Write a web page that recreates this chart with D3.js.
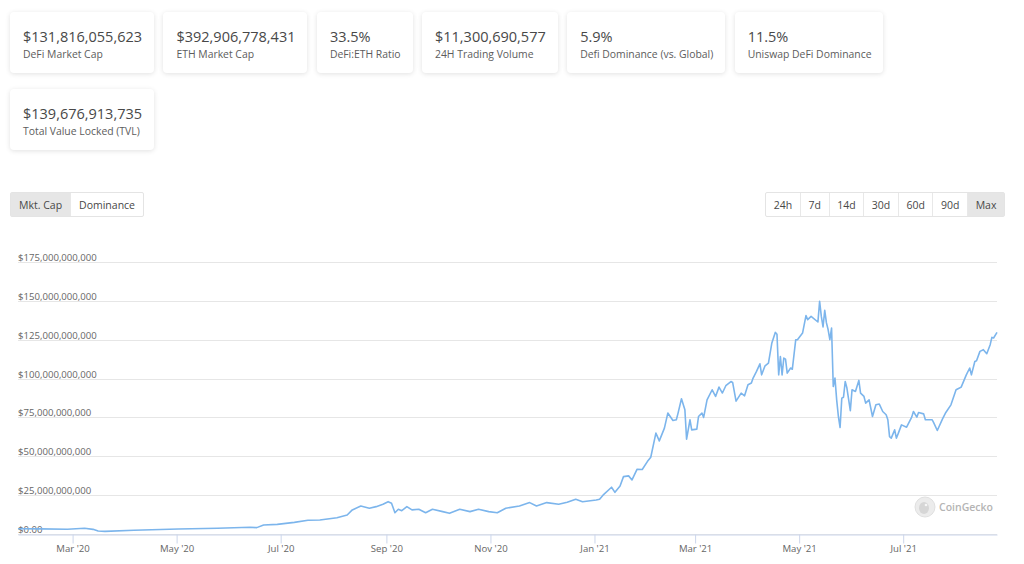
<!DOCTYPE html>
<html>
<head>
<meta charset="utf-8">
<script src="https://cdn.jsdelivr.net/npm/d3@7"></script>
<style>
  body { margin: 0; width: 1024px; height: 564px; overflow: hidden; position: relative; background: #fff; font-family: "Open Sans", sans-serif; }
  #cards { position: absolute; left: 10px; top: 12px; width: 890px; display: flex; flex-wrap: wrap; gap: 16px 9.4px; }
  .card { background: #fff; border-radius: 4px; box-shadow: 0 1px 5px rgba(0,0,0,0.12); padding: 16px 12px 0 13px; height: 61px; box-sizing: border-box; white-space: nowrap; }
  .card .val { font-size: 14.5px; line-height: 18px; color: #484848; }
  .card .lbl { font-size: 10.4px; line-height: 14px; color: #5c5c5c; margin-top: 1px; }
  .btns { position: absolute; top: 192px; display: flex; border: 1px solid #e4e4e4; border-radius: 2px; }
  .btns div { height: 23px; line-height: 25px; font-size: 10.5px; color: #484848; padding: 0 8px; border-left: 1px solid #e8e8e8; }
  #rangeBtns div { padding: 0 7.6px; }
  .btns div:first-child { border-left: none; }
  .btns div.on { background: #e6e6e6; }
  #chart { position: absolute; left: 0; top: 0; }
</style>
</head>
<body>
<div id="cards"></div>
<div id="viewBtns" class="btns" style="left:10px"></div>
<div id="rangeBtns" class="btns" style="right:19px"></div>
<svg id="chart" width="1024" height="564"></svg>
<script>
// stat cards
const statValues = ["$131,816,055,623", "$392,906,778,431", "33.5%", "$11,300,690,577", "5.9%", "11.5%", "$139,676,913,735"];
const statLabels = ["DeFi Market Cap", "ETH Market Cap", "DeFi:ETH Ratio", "24H Trading Volume", "Defi Dominance (vs. Global)", "Uniswap DeFi Dominance", "Total Value Locked (TVL)"];

const viewButtons = ["Mkt. Cap", "Dominance"];
const rangeButtons = ["24h", "7d", "14d", "30d", "60d", "90d", "Max"];

// y ticks in billions of USD
const yTicks = [0, 25, 50, 75, 100, 125, 150, 175];

// DeFi market cap (billions USD)
const capDates = ["2020-01-29","2020-02-11","2020-02-27","2020-03-08","2020-03-13","2020-03-16","2020-03-20","2020-04-06","2020-05-02","2020-05-25","2020-06-13","2020-06-17","2020-06-21","2020-06-29","2020-07-09","2020-07-17","2020-07-24","2020-08-03","2020-08-09","2020-08-12","2020-08-17","2020-08-22","2020-08-26","2020-08-30","2020-09-02","2020-09-04","2020-09-06","2020-09-08","2020-09-10","2020-09-13","2020-09-16","2020-09-20","2020-09-24","2020-09-28","2020-10-04","2020-10-08","2020-10-14","2020-10-20","2020-10-25","2020-10-31","2020-11-05","2020-11-10","2020-11-18","2020-11-24","2020-11-28","2020-12-04","2020-12-11","2020-12-16","2020-12-21","2020-12-25","2021-01-02","2021-01-04","2021-01-06","2021-01-11","2021-01-13","2021-01-16","2021-01-18","2021-01-21","2021-01-23","2021-01-26","2021-01-29","2021-02-01","2021-02-03","2021-02-06","2021-02-08","2021-02-11","2021-02-13","2021-02-16","2021-02-18","2021-02-19","2021-02-21","2021-02-23","2021-02-24","2021-02-26","2021-02-27","2021-03-02","2021-03-03","2021-03-05","2021-03-06","2021-03-08","2021-03-11","2021-03-13","2021-03-15","2021-03-17","2021-03-19","2021-03-22","2021-03-23","2021-03-25","2021-03-28","2021-03-30","2021-04-01","2021-04-03","2021-04-04","2021-04-06","2021-04-08","2021-04-09","2021-04-11","2021-04-13","2021-04-15","2021-04-17","2021-04-18","2021-04-19","2021-04-20","2021-04-21","2021-04-22","2021-04-23","2021-04-24","2021-04-26","2021-04-27","2021-04-29","2021-04-30","2021-05-03","2021-05-05","2021-05-06","2021-05-08","2021-05-12","2021-05-13","2021-05-14","2021-05-15","2021-05-16","2021-05-17","2021-05-18","2021-05-19","2021-05-20","2021-05-21","2021-05-22","2021-05-23","2021-05-24","2021-05-25","2021-05-26","2021-05-27","2021-05-28","2021-05-29","2021-05-31","2021-06-01","2021-06-03","2021-06-05","2021-06-06","2021-06-08","2021-06-09","2021-06-11","2021-06-13","2021-06-15","2021-06-17","2021-06-19","2021-06-21","2021-06-22","2021-06-23","2021-06-24","2021-06-26","2021-06-27","2021-06-28","2021-06-30","2021-07-03","2021-07-06","2021-07-07","2021-07-09","2021-07-10","2021-07-13","2021-07-14","2021-07-18","2021-07-19","2021-07-21","2021-07-24","2021-07-26","2021-07-29","2021-08-01","2021-08-03","2021-08-04","2021-08-07","2021-08-09","2021-08-10","2021-08-12","2021-08-13","2021-08-15","2021-08-17","2021-08-19","2021-08-21","2021-08-22","2021-08-23","2021-08-25"];
const capValues = [3.4,3.3,3.1,3.7,3.0,1.9,1.7,2.4,3.2,3.7,4.3,4.1,5.8,6.2,7.5,8.8,9.0,10.5,12.2,15.5,18.0,16.6,17.6,19.1,20.8,19.8,13.7,15.9,15.0,17.6,15.5,15.9,13.7,15.9,14.4,13.3,15.9,14.4,15.9,14.4,13.7,16.6,18.0,20.2,18.0,20.2,19.1,20.4,22.4,20.8,21.9,22.4,25.0,30.1,26.8,30.9,36.9,37.4,34.8,41.7,41.5,46.6,49.4,64.9,59.9,68.1,77.8,73.0,73.5,77.8,87.0,79.9,61.0,73.5,67.0,67.5,75.6,77.8,75.0,86.3,92.8,88.5,94.5,90.7,95.4,98.1,97.5,85.5,90.6,88.9,96.0,97.1,100.3,104.6,109.5,102.4,108.2,110.0,122.9,129.7,128.5,102.4,114.2,102.4,113.2,112.5,103.5,106.8,106.0,125.0,125.0,129.3,140.5,137.9,140.0,136.4,149.7,140.0,133.2,143.9,135.8,131.4,125.0,132.5,94.9,100.3,86.3,75.6,68.5,87.4,88.0,98.1,93.9,79.4,92.8,91.7,98.8,90.6,88.5,84.2,86.3,75.6,83.1,83.6,78.8,76.7,73.5,62.7,61.7,67.0,61.7,64.4,70.2,68.7,75.2,78.8,75.2,78.2,77.3,73.5,73.5,71.3,66.6,73.9,78.2,83.1,92.8,93.9,94.5,102.4,106.8,102.4,111.0,111.5,117.5,118.6,116.0,121.8,126.5,126.1,129.7];

function drawCards() {
  const cards = d3.select("#cards").selectAll(".card")
    .data(d3.zip(statValues, statLabels))
    .enter()
    .append("div")
    .attr("class", "card");
  cards.append("div").attr("class", "val").text(d => d[0]);
  cards.append("div").attr("class", "lbl").text(d => d[1]);
}

function drawButtons(id, labels, active) {
  d3.select(id).selectAll("div")
    .data(labels)
    .enter()
    .append("div")
    .classed("on", d => d === active)
    .text(d => d);
}

function drawChart() {
  const svg = d3.select("#chart");
  const left = 18, right = 997, top = 262, bottom = 534;

  const parse = d3.timeParse("%Y-%m-%d");
  const data = d3.zip(capDates.map(parse), capValues);

  const x = d3.scaleTime()
    .domain([parse("2020-01-29"), parse("2021-08-25")])
    .range([left, right]);
  const y = d3.scaleLinear()
    .domain([0, 175])
    .range([bottom, top]);

  // grid + y labels
  const grid = svg.append("g");
  grid.selectAll("line")
    .data(yTicks)
    .enter()
    .append("line")
    .attr("x1", left).attr("x2", right)
    .attr("y1", d => Math.round(y(d)) + 0.5)
    .attr("y2", d => Math.round(y(d)) + 0.5)
    .attr("stroke", "#e6e6e6");

  const fmt = d3.format("$,");
  grid.selectAll("text")
    .data(yTicks)
    .enter()
    .append("text")
    .attr("x", left)
    .attr("y", d => y(d) - 1)
    .attr("font-size", "9.6px")
    .attr("fill", "#666")
    .text(d => d === 0 ? "$0.00" : fmt(d * 1e9));

  // x axis
  const xAxis = d3.axisBottom(x)
    .ticks(d3.timeMonth.every(2))
    .tickFormat(d3.timeFormat("%b '%y"))
    .tickSize(9)
    .tickSizeOuter(0)
    .tickPadding(2);
  const ax = svg.append("g")
    .attr("transform", `translate(0,${bottom + 0.5})`)
    .call(xAxis);
  ax.select(".domain").attr("stroke", "#ccd6eb");
  ax.selectAll(".tick line").attr("stroke", "#ccd6eb");
  ax.selectAll(".tick text")
    .attr("fill", "#666")
    .attr("font-size", "9.6px")
    .attr("font-family", "Open Sans, sans-serif");

  // watermark
  const wm = svg.append("g").attr("transform", "translate(925,507)");
  wm.append("circle").attr("r", 10).attr("fill", "#ececec").attr("stroke", "#e0e0e0");
  wm.append("ellipse").attr("cx", -1).attr("cy", 1).attr("rx", 5).attr("ry", 6).attr("fill", "#d6d6d6");
  wm.append("circle").attr("cx", 1).attr("cy", -2).attr("r", 1.3).attr("fill", "#f6f6f6");
  wm.append("text")
    .attr("x", 14).attr("y", 4)
    .attr("font-size", "10.5px")
    .attr("font-weight", 600)
    .attr("fill", "#b4b4b4")
    .text("CoinGecko");

  // line
  const line = d3.line()
    .x(d => x(d[0]))
    .y(d => y(d[1]));
  svg.append("path")
    .datum(data)
    .attr("d", line)
    .attr("fill", "none")
    .attr("stroke", "#7cb5ec")
    .attr("stroke-width", 1.6)
    .attr("stroke-linejoin", "round");
}

drawCards();
drawButtons("#viewBtns", viewButtons, "Mkt. Cap");
drawButtons("#rangeBtns", rangeButtons, "Max");
drawChart();
</script>
</body>
</html>
